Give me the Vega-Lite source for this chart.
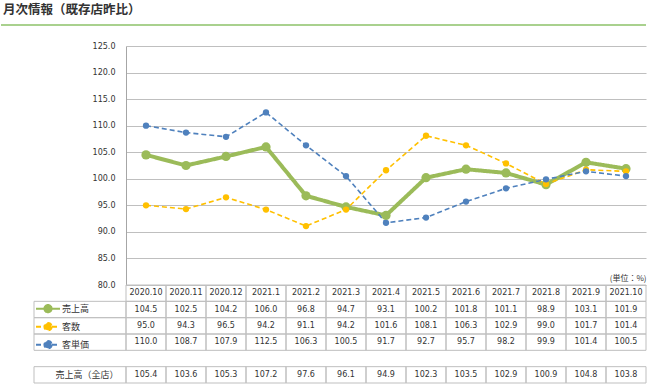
{
  "$schema": "https://vega.github.io/schema/vega-lite/v6.json",
  "padding": {"top": 3, "left": 0, "right": 0, "bottom": 0},
  "background": "white",
  "config": {"font": "DejaVu Sans", "view": {"stroke": null}},
  "title": {"text": "月次情報（既存店昨比）", "anchor": "start", "font": "Noto Sans CJK JP", "fontSize": 12.5, "fontWeight": "bold", "color": "#333333", "offset": 8, "dx": 3},
  "datasets": {
    "header": [{"line": 1}],
    "monthly": [
      {"month": "2020.10", "series": "売上高", "value": 104.5},
      {"month": "2020.11", "series": "売上高", "value": 102.5},
      {"month": "2020.12", "series": "売上高", "value": 104.2},
      {"month": "2021.1", "series": "売上高", "value": 106.0},
      {"month": "2021.2", "series": "売上高", "value": 96.8},
      {"month": "2021.3", "series": "売上高", "value": 94.7},
      {"month": "2021.4", "series": "売上高", "value": 93.1},
      {"month": "2021.5", "series": "売上高", "value": 100.2},
      {"month": "2021.6", "series": "売上高", "value": 101.8},
      {"month": "2021.7", "series": "売上高", "value": 101.1},
      {"month": "2021.8", "series": "売上高", "value": 98.9},
      {"month": "2021.9", "series": "売上高", "value": 103.1},
      {"month": "2021.10", "series": "売上高", "value": 101.9},
      {"month": "2020.10", "series": "客数", "value": 95.0},
      {"month": "2020.11", "series": "客数", "value": 94.3},
      {"month": "2020.12", "series": "客数", "value": 96.5},
      {"month": "2021.1", "series": "客数", "value": 94.2},
      {"month": "2021.2", "series": "客数", "value": 91.1},
      {"month": "2021.3", "series": "客数", "value": 94.2},
      {"month": "2021.4", "series": "客数", "value": 101.6},
      {"month": "2021.5", "series": "客数", "value": 108.1},
      {"month": "2021.6", "series": "客数", "value": 106.3},
      {"month": "2021.7", "series": "客数", "value": 102.9},
      {"month": "2021.8", "series": "客数", "value": 99.0},
      {"month": "2021.9", "series": "客数", "value": 101.7},
      {"month": "2021.10", "series": "客数", "value": 101.4},
      {"month": "2020.10", "series": "客単価", "value": 110.0},
      {"month": "2020.11", "series": "客単価", "value": 108.7},
      {"month": "2020.12", "series": "客単価", "value": 107.9},
      {"month": "2021.1", "series": "客単価", "value": 112.5},
      {"month": "2021.2", "series": "客単価", "value": 106.3},
      {"month": "2021.3", "series": "客単価", "value": 100.5},
      {"month": "2021.4", "series": "客単価", "value": 91.7},
      {"month": "2021.5", "series": "客単価", "value": 92.7},
      {"month": "2021.6", "series": "客単価", "value": 95.7},
      {"month": "2021.7", "series": "客単価", "value": 98.2},
      {"month": "2021.8", "series": "客単価", "value": 99.9},
      {"month": "2021.9", "series": "客単価", "value": 101.4},
      {"month": "2021.10", "series": "客単価", "value": 100.5},
      {"month": "2020.10", "series": "売上高（全店）", "value": 105.4},
      {"month": "2020.11", "series": "売上高（全店）", "value": 103.6},
      {"month": "2020.12", "series": "売上高（全店）", "value": 105.3},
      {"month": "2021.1", "series": "売上高（全店）", "value": 107.2},
      {"month": "2021.2", "series": "売上高（全店）", "value": 97.6},
      {"month": "2021.3", "series": "売上高（全店）", "value": 96.1},
      {"month": "2021.4", "series": "売上高（全店）", "value": 94.9},
      {"month": "2021.5", "series": "売上高（全店）", "value": 102.3},
      {"month": "2021.6", "series": "売上高（全店）", "value": 103.5},
      {"month": "2021.7", "series": "売上高（全店）", "value": 102.9},
      {"month": "2021.8", "series": "売上高（全店）", "value": 100.9},
      {"month": "2021.9", "series": "売上高（全店）", "value": 104.8},
      {"month": "2021.10", "series": "売上高（全店）", "value": 103.8}
    ]
  },
  "columns": 3,
  "bounds": "flush",
  "spacing": 0,
  "concat": [
    {
      "width": 33, "height": 21, "data": {"name": "header"},
      "mark": {"type": "rule", "color": "#a9d18e", "strokeWidth": 2},
      "encoding": {"y": {"field": "line", "type": "quantitative", "scale": {"domain": [0, 1], "nice": false}, "axis": null}}
    },
    {
      "width": 92, "height": 21, "data": {"name": "header"},
      "mark": {"type": "rule", "color": "#a9d18e", "strokeWidth": 2},
      "encoding": {"y": {"field": "line", "type": "quantitative", "scale": {"domain": [0, 1], "nice": false}, "axis": null}}
    },
    {
      "width": 520, "height": 21, "data": {"name": "header"},
      "mark": {"type": "rule", "color": "#a9d18e", "strokeWidth": 2},
      "encoding": {"y": {"field": "line", "type": "quantitative", "scale": {"domain": [0, 1], "nice": false}, "axis": null}}
    },
    {"width": 33, "height": 239, "data": {"values": []}, "mark": "point"},
    {"width": 92, "height": 239, "data": {"values": []}, "mark": "point"},
    {
      "width": 520,
      "height": 239,
      "data": {"name": "monthly"},
      "transform": [{"filter": "datum.series !== '売上高（全店）'"}],
      "encoding": {
        "x": {
          "field": "month", "type": "ordinal",
          "scale": {"type": "point", "padding": 0.5, "domain": ["2020.10","2020.11","2020.12","2021.1","2021.2","2021.3","2021.4","2021.5","2021.6","2021.7","2021.8","2021.9","2021.10"]},
          "axis": {"labels": false, "ticks": false, "domain": false, "grid": false, "title": "(単位：%)", "titleAnchor": "end", "titleAlign": "right", "titleBaseline": "bottom", "titleY": -3, "titleFont": "Noto Sans CJK JP", "titleFontSize": 8, "titleFontWeight": "normal", "titleColor": "#333333"}
        },
        "y": {
          "field": "value", "type": "quantitative",
          "scale": {"domain": [80, 125], "nice": false, "zero": false},
          "axis": {"values": [80, 85, 90, 95, 100, 105, 110, 115, 120, 125], "format": ".1f", "title": null, "ticks": false, "labelPadding": 11, "domainColor": "#a6a6a6", "gridColor": "#bfbfbf", "labelFont": "DejaVu Sans", "labelFontSize": 8, "labelColor": "#333333"}
        },
        "color": {
          "field": "series", "type": "nominal",
          "scale": {"domain": ["売上高", "客数", "客単価"], "range": ["#9bbb59", "#ffc000", "#4f81bd"]},
          "legend": {
            "title": null, "orient": "none", "legendX": 34, "legendY": 275, "direction": "vertical",
            "symbolType": "M-1,0L1,0M0.3,0A0.3,0.3,0,1,1,-0.3,0A0.3,0.3,0,1,1,0.3,0Z",
            "symbolSize": 576, "symbolStrokeWidth": 2, "clipHeight": 17.3,
            "labelFont": "Noto Sans CJK JP", "labelFontSize": 9, "labelColor": "#333333",
            "labelOffset": 1, "rowPadding": 0, "padding": 0,
            "encode": {"symbols": {"update": {
              "size": {"value": 576},
              "fill": {"signal": "datum.value === '売上高' ? '#9bbb59' : datum.value === '客数' ? '#ffc000' : '#4f81bd'"},
              "stroke": {"signal": "datum.value === '売上高' ? '#9bbb59' : datum.value === '客数' ? '#ffc000' : '#4f81bd'"},
              "strokeDash": {"signal": "datum.value === '売上高' ? [] : [4, 2]"},
              "opacity": {"value": 1}
            }}}
          }
        }
      },
      "layer": [
        {
          "mark": {"type": "line"},
          "encoding": {
            "strokeDash": {"field": "series", "type": "nominal", "scale": {"domain": ["売上高", "客数", "客単価"], "range": [[1, 0], [5, 3], [5, 3]]}, "legend": null},
            "strokeWidth": {"condition": {"test": "datum.series === '売上高'", "value": 4}, "value": 1.6}
          }
        },
        {
          "mark": {"type": "circle", "opacity": 1},
          "encoding": {
            "size": {"condition": {"test": "datum.series === '売上高'", "value": 85}, "value": 40}
          }
        }
      ]
    },
    {"width": 33, "height": 98, "data": {"values": []}, "mark": "point"},
    {
      "width": 92,
      "height": 98,
      "data": {"name": "monthly"},
      "transform": [{"filter": "datum.month === '2020.10'"}],
      "mark": {"type": "rect", "filled": false, "color": "#bfbfbf", "strokeWidth": 1},
      "encoding": {
        "y": {"field": "series", "type": "nominal", "scale": {"domain": ["月", "売上高", "客数", "客単価", " ", "売上高（全店）"], "paddingInner": 0, "paddingOuter": 0}, "axis": null}
      }
    },
    {
      "width": 520,
      "height": 98,
      "data": {"name": "monthly"},
      "encoding": {
        "x": {"field": "month", "type": "ordinal", "scale": {"type": "band", "paddingInner": 0, "paddingOuter": 0, "domain": ["2020.10","2020.11","2020.12","2021.1","2021.2","2021.3","2021.4","2021.5","2021.6","2021.7","2021.8","2021.9","2021.10"]}, "axis": null},
        "y": {
          "field": "series", "type": "nominal",
          "scale": {"domain": ["月", "売上高", "客数", "客単価", " ", "売上高（全店）"], "paddingInner": 0, "paddingOuter": 0},
          "axis": {"labelExpr": "datum.value === '売上高（全店）' ? datum.value : ''", "ticks": false, "domain": false, "grid": false, "title": null, "labelPadding": 8, "labelFont": "Noto Sans CJK JP", "labelFontSize": 9, "labelColor": "#333333"}
        }
      },
      "layer": [
        {"mark": {"type": "rect", "filled": false, "color": "#bfbfbf", "strokeWidth": 1}},
        {"mark": {"type": "text", "font": "DejaVu Sans", "fontSize": 8, "color": "#333333"}, "encoding": {"text": {"field": "value", "type": "quantitative", "format": ".1f"}}},
        {"transform": [{"filter": "datum.series === '売上高'"}], "mark": {"type": "rect", "filled": false, "color": "#bfbfbf", "strokeWidth": 1}, "encoding": {"y": {"datum": "月", "type": "nominal"}}},
        {"transform": [{"filter": "datum.series === '売上高'"}], "mark": {"type": "text", "font": "DejaVu Sans", "fontSize": 8, "color": "#333333"}, "encoding": {"y": {"datum": "月", "type": "nominal"}, "text": {"field": "month", "type": "nominal"}}}
      ]
    }
  ]
}
